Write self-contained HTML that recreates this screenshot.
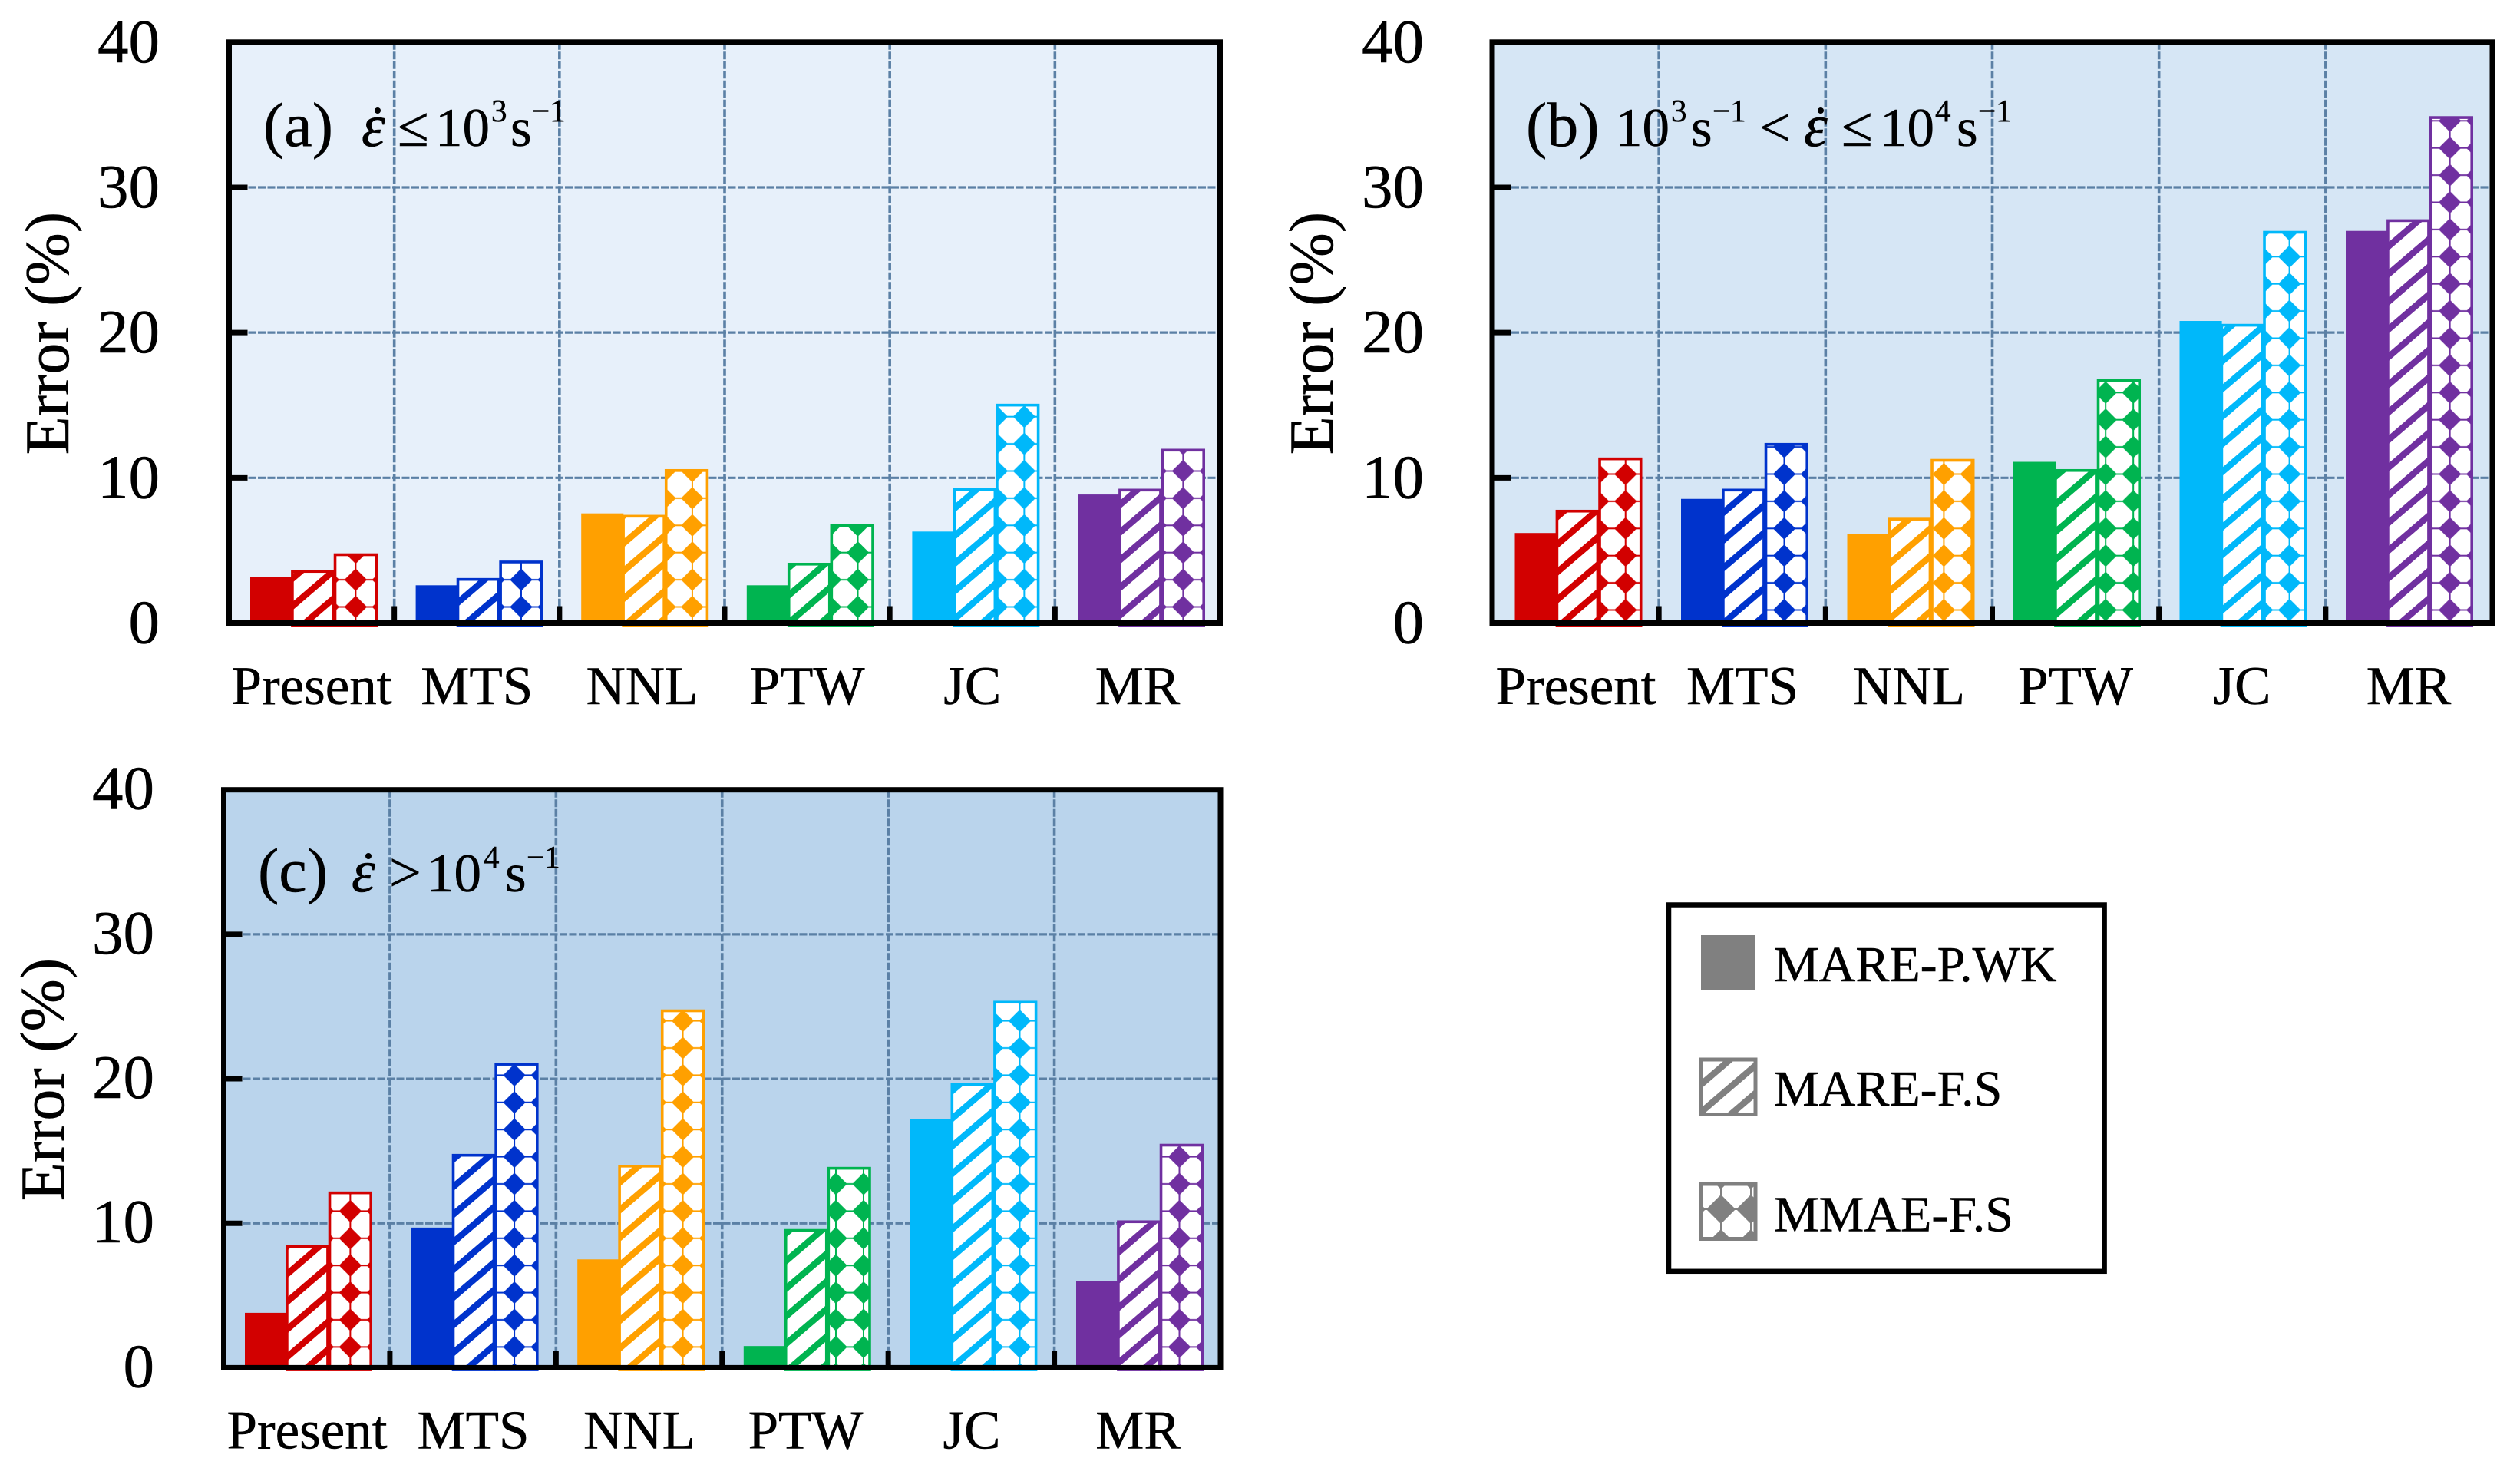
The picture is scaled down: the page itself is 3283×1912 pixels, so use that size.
<!DOCTYPE html>
<html lang="en">
<head>
<meta charset="utf-8">
<title>Error comparison by strain rate</title>
<style>
  html, body { margin: 0; padding: 0; background: #ffffff; }
  svg { display: block; }
  text { font-family: "Liberation Serif", serif; fill: #000000; stroke: #000000; stroke-width: 0.5px; }
  .it { font-style: italic; }
</style>
</head>
<body>
<svg id="figure" xmlns="http://www.w3.org/2000/svg" width="3283" height="1912" viewBox="0 0 3283 1912">
  <defs id="defs"></defs>
  <rect x="0" y="0" width="3283" height="1912" fill="#ffffff"></rect>
  <g id="charts"></g>

  <g>
    <text x="343" y="190" font-size="82">(a)</text>
    <text class="it" x="471" y="190" font-size="78">ε</text>
    <circle cx="492" cy="144" r="4" fill="#000"></circle>
    <text x="518" y="190" font-size="74">≤</text>
    <text x="567" y="190" font-size="71">10</text>
    <text x="640" y="158" font-size="41">3</text>
    <text x="665" y="190" font-size="71">s</text>
    <text x="693" y="158" font-size="41">−1</text>
  </g>
  <g>
    <text x="1988" y="190" font-size="82">(b)</text>
    <text x="2104" y="190" font-size="71">10</text>
    <text x="2177" y="158" font-size="41">3</text>
    <text x="2203" y="190" font-size="71">s</text>
    <text x="2231" y="158" font-size="41">−1</text>
    <text x="2292" y="190" font-size="72">&lt;</text>
    <text class="it" x="2350" y="190" font-size="78">ε</text>
    <circle cx="2372" cy="144" r="4" fill="#000"></circle>
    <text x="2399" y="190" font-size="74">≤</text>
    <text x="2449" y="190" font-size="71">10</text>
    <text x="2521" y="158" font-size="41">4</text>
    <text x="2549" y="190" font-size="71">s</text>
    <text x="2577" y="158" font-size="41">−1</text>
  </g>
  <g>
    <text x="336" y="1161" font-size="82">(c)</text>
    <text class="it" x="458" y="1161" font-size="78">ε</text>
    <circle cx="480" cy="1115" r="4" fill="#000"></circle>
    <text x="507" y="1161" font-size="74">&gt;</text>
    <text x="556" y="1161" font-size="71">10</text>
    <text x="630" y="1130" font-size="41">4</text>
    <text x="658" y="1161" font-size="71">s</text>
    <text x="686" y="1130" font-size="41">−1</text>
  </g>

  <g>
    <rect x="2174" y="1178.5" width="567.6" height="477.3" fill="#ffffff" stroke="#000000" stroke-width="6.5"></rect>
    <rect x="2216" y="1218" width="71" height="71" fill="#808080"></rect>
    <text x="2311" y="1278" font-size="66">MARE-P.WK</text>
    <rect x="2216.5" y="1380" width="70.5" height="71.5" fill="url(#legend-hatch)" stroke="#808080" stroke-width="5"></rect>
    <text x="2311" y="1440" font-size="66">MARE-F.S</text>
    <rect x="2216.5" y="1542" width="70.5" height="71.5" fill="url(#legend-dots)" stroke="#808080" stroke-width="5"></rect>
    <text x="2311" y="1603.5" font-size="66">MMAE-F.S</text>
  </g>
</svg>

<script>
// ---- chart data -----------------------------------------------------------
const categories = ['Present', 'MTS', 'NNL', 'PTW', 'JC', 'MR'];
const yTickValues = [0, 10, 20, 30, 40];

const panelAMareWk = [3.15, 2.6, 7.55, 2.6, 6.3, 8.85];
const panelAMareFs = [3.65, 3.1, 7.45, 4.15, 9.3, 9.25];
const panelAMmaeFs = [4.8, 4.3, 10.6, 6.8, 15.1, 12.0];

const panelBMareWk = [6.2, 8.55, 6.15, 11.1, 20.8, 27.0];
const panelBMareFs = [7.8, 9.25, 7.25, 10.6, 20.6, 27.8];
const panelBMmaeFs = [11.4, 12.4, 11.3, 16.8, 27.0, 34.9];

const panelCMareWk = [3.8, 9.7, 7.5, 1.5, 17.2, 6.0];
const panelCMareFs = [8.5, 14.8, 14.05, 9.6, 19.7, 10.2];
const panelCMmaeFs = [12.2, 21.1, 24.8, 13.9, 25.4, 15.5];

// ---- styling ---------------------------------------------------------------
const barColors = ['#d20000', '#0033cc', '#ffa000', '#00b450', '#00b8fa', '#7030a0'];
const gridColor = '#5b80a5';
const SVG_NS = 'http://www.w3.org/2000/svg';
const figure = document.getElementById('figure');
const defs = document.getElementById('defs');
const charts = document.getElementById('charts');

const panels = [
  { key: 'a', bg: '#e7f0fa', left: 298.5, right: 1589.5, top: 54.8, bottom: 811.5,
    groupStart: 326, period: 215.6, labelStart: 406, labelPeriod: 215.2, labelBase: 917,
    tickRight: 207, tickDy: 26, titleX: 89,
    dotLift: 21, dotPhase: [0.5, 0.5, 0.0, 0.0, 0.65, 0.5],
    mareWk: panelAMareWk, mareFs: panelAMareFs, mmaeFs: panelAMmaeFs },
  { key: 'b', bg: '#d6e6f5', left: 1944, right: 3247, top: 54.8, bottom: 811.5,
    groupStart: 1973.5, period: 216.5, labelStart: 2053, labelPeriod: 217, labelBase: 917,
    tickRight: 1854, tickDy: 26, titleX: 1736,
    dotLift: 17, dotPhase: [0.62, 0.45, 0.3, 0.2, 0.6, 0.47],
    mareWk: panelBMareWk, mareFs: panelBMareFs, mmaeFs: panelBMmaeFs },
  { key: 'c', bg: '#bad4ec', left: 291.5, right: 1590, top: 1028.7, bottom: 1781.4,
    groupStart: 319, period: 216.6, labelStart: 400, labelPeriod: 216.5, labelBase: 1886.6,
    tickRight: 200, tickDy: 25, titleX: 83,
    dotLift: 27, dotPhase: [0.5, 0.45, 0.5, 0.2, 0.6, 0.45],
    mareWk: panelCMareWk, mareFs: panelCMareFs, mmaeFs: panelCMmaeFs }
];

// ---- helpers ---------------------------------------------------------------
function make(tag, attrs, parent) {
  const el = document.createElementNS(SVG_NS, tag);
  for (const k in attrs) el.setAttribute(k, attrs[k]);
  if (parent) parent.appendChild(el);
  return el;
}
function yScale(p, value) {
  return p.bottom - (value / 40) * (p.bottom - p.top);
}
function xBoundary(p, index) {
  return p.left + (index * (p.right - p.left)) / 6;
}
function groupX(p, index) {
  return p.groupStart + index * p.period;
}

const GROUP_W = 166;
const BAR_EDGES = [0, 0.32, 0.655, 1];

function hatchPattern(id, color) {
  const pat = make('pattern', { id: id, patternUnits: 'userSpaceOnUse', width: 42, height: 36 }, defs);
  make('rect', { x: 0, y: 0, width: 42, height: 36, fill: '#ffffff' }, pat);
  [-36, 0, 36].forEach(function (off) {
    const pts = [[0, 30.5 + off], [42, -5.5 + off], [42, 5.5 + off], [0, 41.5 + off]];
    make('polygon', { points: pts.map(function (q) { return q.join(','); }).join(' '), fill: color }, pat);
  });
}
function dotPattern(id, color, tx, ty, tw, th, rx, ry) {
  const pat = make('pattern', {
    id: id, patternUnits: 'userSpaceOnUse', width: tw, height: th,
    patternTransform: 'translate(' + (tx - tw / 2) + ' ' + (ty - th / 2) + ')'
  }, defs);
  const cx = tw / 2, cy = th / 2;
  make('rect', { x: 0, y: 0, width: tw, height: th, fill: '#ffffff' }, pat);
  make('rect', { x: cx - 1, y: 0, width: 2, height: th, fill: color }, pat);
  make('rect', { x: 0, y: cy - 1, width: tw, height: 2, fill: color }, pat);
  make('polygon', {
    points: [[cx, cy - ry], [cx + rx, cy], [cx, cy + ry], [cx - rx, cy]].map(function (q) { return q.join(','); }).join(' '),
    fill: color, stroke: color, 'stroke-width': 3, 'stroke-linejoin': 'round'
  }, pat);
}

// legend patterns
hatchPattern('legend-hatch', '#808080');
dotPattern('legend-dots', '#808080', 2242, 1575, 39, 45, 17, 17);

// category hatch patterns
barColors.forEach(function (color, i) {
  hatchPattern('hatch-' + i, color);
});

// ---- drawing ---------------------------------------------------------------
panels.forEach(function (p) {
  const g = make('g', {}, charts);
  
  

  const bg = make('rect', { x: p.left, y: p.top, width: p.right - p.left, height: p.bottom - p.top, fill: p.bg }, g);
  
  

  // horizontal grid
  yTickValues.forEach(function (v) {
    if (v === 0 || v === 40) return;
    const y = yScale(p, v);
    const line = make('line', { x1: p.left, x2: p.right, y1: y, y2: y, stroke: gridColor, 'stroke-width': 3.2, 'stroke-dasharray': '10 2.5' }, g);
    
    
  });
  // vertical grid
  for (let i = 1; i < 6; i++) {
    const x = xBoundary(p, i);
    const line = make('line', { x1: x, x2: x, y1: p.top, y2: p.bottom, stroke: gridColor, 'stroke-width': 3.6, 'stroke-dasharray': '10 2.5' }, g);
    
    
  }

  // bars
  categories.forEach(function (cat, i) {
    const color = barColors[i];
    const x0 = groupX(p, i);
    const xa = x0 + BAR_EDGES[0] * GROUP_W;
    const xb = x0 + BAR_EDGES[1] * GROUP_W;
    const xc = x0 + BAR_EDGES[2] * GROUP_W;
    const xd = x0 + BAR_EDGES[3] * GROUP_W;
    const slug = cat.toLowerCase();
    const overhang = 4.5;
    const sw = 3.6;

    const solidTop = yScale(p, p.mareWk[i]);
    const solid = make('rect', { x: xa, y: solidTop, width: xb - xa + 2, height: p.bottom - solidTop, fill: color }, g);
    
    

    const hatchTop = yScale(p, p.mareFs[i]);
    const hatch = make('rect', {
      x: xb + sw / 2, y: hatchTop + sw / 2, width: xc - xb - sw + 1, height: p.bottom + overhang - hatchTop - sw,
      fill: 'url(#hatch-' + i + ')', stroke: color, 'stroke-width': sw
    }, g);
    
    

    const patId = 'dots-' + p.key + '-' + i;
    dotPattern(patId, color, xc + p.dotPhase[i] * (xd - xc), p.bottom - p.dotLift, 36, 35.4, 12.5, 12.5);
    const dotsTop = yScale(p, p.mmaeFs[i]);
    const dots = make('rect', {
      x: xc + sw / 2, y: dotsTop + sw / 2, width: xd - xc - sw, height: p.bottom + overhang - dotsTop - sw,
      fill: 'url(#' + patId + ')', stroke: color, 'stroke-width': sw
    }, g);
    
    

    const label = make('text', { x: p.labelStart + i * p.labelPeriod, y: p.labelBase, 'font-size': 71, 'text-anchor': 'middle' }, g);
    label.textContent = cat;
    
    
  });

  // y ticks and labels
  yTickValues.forEach(function (v) {
    const y = yScale(p, v);
    if (v !== 0 && v !== 40) {
      const tick = make('line', { x1: p.left, x2: p.left + 24, y1: y, y2: y, stroke: '#000', 'stroke-width': 7 }, g);
      
      
    }
    const label = make('text', { x: p.tickRight + 1, y: y + p.tickDy, 'font-size': 81, 'text-anchor': 'end' }, g);
    label.textContent = String(v);
    
    
  });
  // x ticks
  for (let i = 1; i < 6; i++) {
    const x = xBoundary(p, i);
    const tick = make('line', { x1: x, x2: x, y1: p.bottom - 22, y2: p.bottom, stroke: '#000', 'stroke-width': 7 }, g);
    
    
  }

  // frame
  const frame = make('rect', { x: p.left, y: p.top, width: p.right - p.left, height: p.bottom - p.top, fill: 'none', stroke: '#000', 'stroke-width': 7 }, g);
  
  

  // y-axis title
  const cy = (p.top + p.bottom) / 2 + 1;
  const title = make('text', { x: p.titleX, y: cy, 'font-size': 82, 'text-anchor': 'middle', transform: 'rotate(-90 ' + p.titleX + ' ' + cy + ')' }, g);
  title.textContent = 'Error (%)';
  
  
});
</script>
</body>
</html>
